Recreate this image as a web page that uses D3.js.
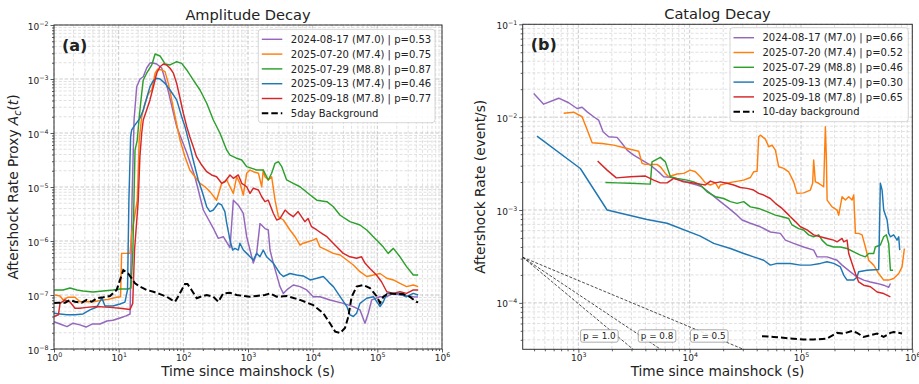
<!DOCTYPE html>
<html>
<head>
<meta charset="utf-8">
<script src="https://cdn.jsdelivr.net/npm/d3@7"></script>
<style>
  body { margin: 0; background: #fff; }
  svg text { font-family: "DejaVu Sans", sans-serif; fill: #222; }
</style>
</head>
<body>
<svg id="chart" width="919" height="384"></svg>
<script>
// ─── DATA: panel (a) amplitude proxy, [time s, A_c] ─────────────────────────
const ampLabels = [
  '2024-08-17 (M7.0) | p=0.53',
  '2025-07-20 (M7.4) | p=0.75',
  '2025-07-29 (M8.8) | p=0.87',
  '2025-09-13 (M7.4) | p=0.46',
  '2025-09-18 (M7.8) | p=0.77',
];
const ampBackgroundLabel = '5day Background';

const ampPurple = [[1,3.2e-8],[1.24,2.9e-8],[1.59,2.6e-8],[1.97,3.0e-8],[2.52,2.8e-8],[3.13,2.55e-8],[3.87,2.9e-8],[5.14,2.9e-8],[6.59,3.3e-8],[8.17,3.4e-8],[10.5,3.75e-8],[13.0,4.1e-8],[15.0,4.45e-8],[16.1,5.7e-6],[17.3,1.74e-4],[19.0,7.2e-4],[21.4,1.0e-3],[24.0,1.1e-3],[27.1,1.6e-3],[30.5,1.98e-3],[32.8,2.0e-3],[38.7,1.9e-3],[46.3,1.6e-3],[57.9,6.25e-4],[78.9,1.31e-4],[113,4.3e-5],[151,1.55e-5],[204,3.75e-6],[291,1.72e-6],[347,1.12e-6],[415,1.2e-6],[527,7.5e-7],[593,5.7e-6],[708,4.6e-6],[846,3.26e-6],[955,1.2e-6],[1074,6.8e-7],[1208,3.9e-7],[1361,5.9e-7],[1531,2.1e-6],[1831,1.7e-6],[2060,1.6e-6],[2188,6.8e-7],[2461,3.9e-7],[3124,1.43e-7],[3515,1.07e-7],[3963,1.24e-7],[5012,1.53e-7],[6366,1.43e-7],[8091,1.24e-7],[10230,9.3e-8],[12980,9.3e-8],[18530,8.1e-8],[29740,7.0e-8],[42460,6.1e-8],[53950,5.3e-8],[64420,3.0e-8],[72440,4.6e-8],[81850,8.1e-8],[109900,9.3e-8],[139600,9.3e-8],[176600,1.07e-7],[224000,1.0e-7],[359700,9.3e-8],[425000,9.2e-8]];

const ampOrange = [[1.04,1.0e-7],[1.24,9.6e-8],[1.39,8.1e-8],[1.66,9.1e-8],[2.11,9.1e-8],[2.52,7.5e-8],[3.2,7.5e-8],[4.05,7.5e-8],[5.79,8.1e-8],[6.9,8.3e-8],[9.3,9.1e-8],[10.7,9.3e-8],[11.1,5.9e-7],[15.0,5.9e-7],[16.0,1.5e-6],[17.3,2.45e-6],[19.4,5.7e-6],[20.8,7.4e-5],[22.7,2.0e-4],[25.5,3.55e-4],[28.7,5.4e-4],[32.5,6.25e-4],[36.6,1.28e-3],[39.8,1.51e-3],[46.3,1.47e-3],[52.1,1.37e-3],[58.6,8.3e-4],[66.1,4.1e-4],[74.6,2.0e-4],[89.0,7.4e-5],[106,3.64e-5],[126,2.06e-5],[151,1.55e-5],[181,1.17e-5],[216,1.01e-5],[258,8.2e-6],[327,5.7e-6],[392,1.17e-5],[469,1.35e-5],[527,1.01e-5],[593,7.6e-6],[669,1.55e-5],[750,1.17e-5],[846,7.1e-6],[955,1.8e-5],[1074,2.06e-5],[1210,1.92e-5],[1450,1.8e-5],[1630,1.01e-5],[1720,2.06e-5],[1830,1.55e-5],[2060,1.35e-5],[2320,1.55e-5],[2620,5.7e-6],[2950,2.82e-6],[3520,2.45e-6],[4460,1.6e-6],[5340,1.2e-6],[6370,8.4e-7],[7160,9.1e-7],[8500,9.7e-7],[10200,1.04e-6],[11400,1.12e-6],[12900,7.8e-7],[16500,6.8e-7],[20800,5.9e-7],[26600,5.5e-7],[33800,4.45e-7],[42500,3.6e-7],[53900,2.7e-7],[68600,2.2e-7],[87000,2.35e-7],[110000,2.5e-7],[140000,2.04e-7],[177000,1.9e-7],[224000,1.64e-7],[283000,1.43e-7],[360000,1.53e-7],[428000,1.43e-7]];

const ampGreen = [[1,1.24e-7],[1.38,1.24e-7],[1.77,1.35e-7],[2.27,1.24e-7],[2.81,1.19e-7],[4.01,1.14e-7],[5.72,1.19e-7],[8.17,1.24e-7],[10.5,1.29e-7],[14.0,1.29e-7],[15.5,1.35e-7],[16.6,6.8e-7],[17.9,4.8e-5],[19.4,7.4e-5],[20.8,2.0e-4],[22.7,5.4e-4],[24.0,9.6e-4],[27.1,1.28e-3],[32.5,1.82e-3],[36.6,2.9e-3],[43.6,2.67e-3],[52.1,1.9e-3],[62.3,1.82e-3],[78.9,2.09e-3],[94.3,1.95e-3],[113,1.47e-3],[142,9.6e-4],[181,6.25e-4],[230,3.55e-4],[291,1.74e-4],[369,9.9e-5],[469,4.8e-5],[527,3.9e-5],[651,3.45e-5],[800,3.16e-5],[955,2.38e-5],[1361,2.06e-5],[1723,2.06e-5],[2060,1.35e-5],[2320,1.8e-5],[2620,2.75e-5],[2950,2.95e-5],[3330,2.38e-5],[3960,1.35e-5],[5010,1.17e-5],[6370,1.01e-5],[9150,7.1e-6],[11600,5.7e-6],[16600,5.35e-6],[20900,4.3e-6],[26600,3.0e-6],[37700,2.28e-6],[53900,1.98e-6],[68600,1.6e-6],[97000,1.04e-6],[123000,7.8e-7],[147000,5.9e-7],[177000,7.3e-7],[224000,5.1e-7],[283000,3.35e-7],[360000,2.35e-7],[428000,2.35e-7]];

const ampBlue = [[1,4.6e-8],[1.24,4.45e-8],[1.59,4.3e-8],[2.11,4.3e-8],[2.81,4.45e-8],[3.6,5.3e-8],[4.6,6.0e-8],[5.5,8.8e-8],[6.15,6.25e-8],[8.17,6.25e-8],[10.5,6.8e-8],[12.5,7.4e-8],[13.7,1.24e-7],[14.4,5.7e-6],[15.3,8.5e-5],[15.9,1.14e-4],[17.9,1.41e-4],[21.3,1.87e-4],[24.0,2.67e-4],[27.1,4.4e-4],[30.5,7.2e-4],[34.4,9.3e-4],[38.7,1.03e-3],[43.6,1.0e-3],[52.1,8.3e-4],[62.3,6.25e-4],[78.9,4.1e-4],[94.3,2.0e-4],[106,1.31e-4],[120,7.4e-5],[142,3.16e-5],[170,1.35e-5],[192,8.8e-6],[230,4.3e-6],[258,3.5e-6],[291,3.75e-6],[347,5.0e-6],[391,4.65e-6],[439,3.5e-6],[469,2.13e-6],[527,1.04e-6],[579,6.8e-7],[627,7.3e-7],[708,6.8e-7],[750,9.1e-7],[846,6.8e-7],[955,5.9e-7],[1074,5.1e-7],[1210,4.45e-7],[1360,5.9e-7],[1530,5.1e-7],[1720,6.8e-7],[1940,5.1e-7],[2190,4.45e-7],[2460,3.9e-7],[2780,3.1e-7],[3120,2.5e-7],[3520,2.2e-7],[4460,2.5e-7],[5650,2.35e-7],[7140,2.25e-7],[9150,1.9e-7],[11600,2.04e-7],[14600,2.2e-7],[16600,1.9e-7],[18500,1.64e-7],[20900,1.43e-7],[26600,9.3e-8],[33800,6.1e-8],[37700,4.3e-8],[42500,4.0e-8],[47800,4.6e-8],[53900,7.0e-8],[68600,8.7e-8],[87000,9.3e-8],[110000,6.1e-8],[124000,7.5e-8],[140000,1.07e-7],[177000,1.07e-7],[224000,1.04e-7],[283000,9.3e-8],[360000,1.07e-7],[428000,1.0e-7]];

const ampRed = [[1,4.0e-8],[1.17,4.3e-8],[1.24,7.0e-8],[1.48,8.1e-8],[1.77,7.4e-8],[2.11,5.7e-8],[2.52,5.7e-8],[3.2,5.9e-8],[4.57,6.1e-8],[7.35,5.9e-8],[10.5,5.7e-8],[15.0,5.4e-8],[16.5,7.0e-8],[17.6,6.8e-7],[20.1,5.7e-6],[21.3,3.64e-5],[22.7,9.9e-5],[24.0,1.74e-4],[27.1,2.67e-4],[30.5,4.1e-4],[34.4,7.2e-4],[38.7,1.28e-3],[43.6,1.69e-3],[49.1,1.9e-3],[55.2,1.82e-3],[62.3,1.58e-3],[70.2,1.28e-3],[78.9,8.3e-4],[89.0,4.4e-4],[100,2.32e-4],[113,1.31e-4],[126,8.5e-5],[142,5.6e-5],[160,3.64e-5],[192,2.55e-5],[230,1.92e-5],[273,1.67e-5],[327,1.55e-5],[392,1.17e-5],[439,1.25e-5],[527,1.67e-5],[593,1.45e-5],[708,1.67e-5],[800,1.17e-5],[955,1.01e-5],[1074,7.6e-6],[1210,9.5e-6],[1450,8.8e-6],[1630,6.6e-6],[1830,5.35e-6],[2060,5.7e-6],[2460,3.26e-6],[2780,2.45e-6],[3120,2.6e-6],[3750,3.75e-6],[4220,3.26e-6],[5010,2.82e-6],[5960,3.5e-6],[6720,2.82e-6],[7570,2.28e-6],[8500,2.6e-6],[9600,1.84e-6],[11600,1.6e-6],[13800,1.39e-6],[16600,1.2e-6],[19700,9.7e-7],[23500,7.8e-7],[29700,5.9e-7],[37700,5.1e-7],[47800,4.8e-7],[57000,5.1e-7],[64400,3.9e-7],[76700,3.1e-7],[97000,2.35e-7],[116000,1.76e-7],[140000,1.15e-7],[177000,1.07e-7],[224000,1.15e-7],[283000,1.07e-7],[360000,1.24e-7],[428000,1.24e-7]];

const ampBackground = [[1,7.1e-8],[1.17,7.2e-8],[1.48,7.2e-8],[1.77,8.1e-8],[2.11,7.5e-8],[2.68,7.2e-8],[3.2,8.1e-8],[3.83,7.5e-8],[4.57,8.7e-8],[5.79,9.1e-8],[7.35,9.6e-8],[9.3,1.24e-7],[10.5,1.9e-7],[11.8,2.9e-7],[14.0,2.5e-7],[15.9,2.04e-7],[17.9,1.64e-7],[21.3,1.43e-7],[27.1,1.24e-7],[34.4,1.15e-7],[43.6,1.04e-7],[55.2,9.3e-8],[66,8.1e-8],[74.6,7.5e-8],[84,9.6e-8],[94.3,1.24e-7],[106,1.6e-7],[116,1.6e-7],[134,1.24e-7],[161,8.7e-8],[181,9.2e-8],[230,1.0e-7],[291,9.3e-8],[347,7.5e-8],[415,1.07e-7],[527,1.1e-7],[669,1.0e-7],[846,9.6e-8],[1074,9.3e-8],[1360,9.6e-8],[1830,1.0e-7],[2190,1.07e-7],[2780,9.3e-8],[3960,9.6e-8],[6370,8.1e-8],[10200,6.5e-8],[14600,4.6e-8],[18500,3.0e-8],[22300,2.1e-8],[26600,1.98e-8],[31600,2.45e-8],[35700,4.0e-8],[40000,9.2e-8],[47800,1.43e-7],[60300,1.53e-7],[76700,1.35e-7],[97000,9.6e-8],[110000,7.1e-8],[124000,9.3e-8],[147000,1.07e-7],[197000,1.04e-7],[249000,1.04e-7],[316000,9.3e-8],[400000,7.5e-8],[428000,7.3e-8]];

// ─── DATA: panel (b) catalog rate, [time s, events/s] ───────────────────────
const catLabels = [
  '2024-08-17 (M7.0) | p=0.66',
  '2025-07-20 (M7.4) | p=0.52',
  '2025-07-29 (M8.8) | p=0.46',
  '2025-09-13 (M7.4) | p=0.30',
  '2025-09-18 (M7.8) | p=0.65',
];
const catBackgroundLabel = '10-day background';

const catPurple = [[397,1.8e-2],[488,1.38e-2],[665,1.6e-2],[819,1.43e-2],[973,1.24e-2],[1080,1.28e-2],[1200,1.14e-2],[1372,1.01e-2],[1520,9.3e-3],[1667,6.97e-3],[1871,6.15e-3],[2228,6.06e-3],[2470,5.2e-3],[2740,4.42e-3],[3140,3.9e-3],[3735,3.45e-3],[4430,3.05e-3],[5450,2.48e-3],[5840,2.28e-3],[6710,2.25e-3],[8250,2.1e-3],[10140,1.94e-3],[11650,1.86e-3],[12900,1.78e-3],[15300,1.51e-3],[18870,1.23e-3],[21680,1.08e-3],[26660,8.8e-4],[29570,7.8e-4],[35090,7.2e-4],[43150,6.6e-4],[53080,5.8e-4],[65300,5.6e-4],[72400,4.74e-4],[85980,4.37e-4],[105700,4.0e-4],[130000,3.7e-4],[139600,3.13e-4],[171700,3.13e-4],[211000,2.88e-4],[234000,2.55e-4],[278000,2.16e-4],[319000,1.9e-4],[366000,1.76e-4],[420000,1.68e-4],[483000,1.62e-4],[554000,1.55e-4],[614000,1.47e-4],[636000,1.62e-4]];

const catOrange = [[738,1.1e-2],[907,1.13e-2],[1080,1.01e-2],[1200,7.3e-3],[1330,5.3e-3],[1633,5.2e-3],[2076,5.0e-3],[2740,4.6e-3],[3485,4.3e-3],[3735,3.18e-3],[4000,3.1e-3],[5093,3.1e-3],[5450,2.92e-3],[6050,2.48e-3],[6480,2.28e-3],[7700,2.44e-3],[8840,2.48e-3],[10140,2.69e-3],[11250,2.58e-3],[12470,2.28e-3],[13830,1.96e-3],[15350,1.86e-3],[17020,1.96e-3],[18230,1.71e-3],[18870,1.86e-3],[21680,1.94e-3],[24850,2.01e-3],[30550,2.1e-3],[35090,2.24e-3],[37570,2.58e-3],[40340,2.62e-3],[41700,6.15e-3],[43150,6.4e-3],[47860,5.8e-3],[51290,4.8e-3],[54950,5.0e-3],[58880,4.42e-3],[63100,2.92e-3],[69980,2.81e-3],[77500,2.58e-3],[85980,2.01e-3],[92200,1.51e-3],[105700,1.53e-3],[121400,1.64e-3],[127300,1.94e-3],[130000,3.45e-3],[134600,2.01e-3],[144200,1.94e-3],[159900,1.78e-3],[165600,7.9e-3],[169000,3.74e-3],[171700,1.28e-3],[190300,1.08e-3],[211000,1.0e-3],[218300,8.8e-4],[234000,1.39e-3],[250600,1.28e-3],[268500,1.39e-3],[287700,1.28e-3],[297800,1.45e-3],[308300,5.6e-4],[329800,5.6e-4],[353800,5.4e-4],[379000,4.0e-4],[405500,2.88e-4],[449800,2.55e-4],[498900,2.07e-4],[553400,1.76e-4],[613800,1.76e-4],[680800,1.83e-4],[755000,2.07e-4],[809000,2.44e-4],[849000,3.85e-4]];

const catGreen = [[1750,1.98e-3],[2228,1.96e-3],[2933,1.94e-3],[4430,1.9e-3],[4590,3.3e-3],[5450,3.69e-3],[6050,3.3e-3],[6710,2.28e-3],[7710,2.19e-3],[9480,2.1e-3],[10870,2.01e-3],[12470,1.86e-3],[14330,1.57e-3],[17020,1.39e-3],[20230,1.33e-3],[23230,1.23e-3],[26660,1.18e-3],[30570,1.23e-3],[35090,1.08e-3],[41690,1.04e-3],[49550,9.6e-4],[58880,8.8e-4],[67620,8.45e-4],[77500,8.1e-4],[83100,6.9e-4],[95300,6.3e-4],[105700,6.1e-4],[117200,5.4e-4],[130000,5.15e-4],[144200,5.4e-4],[154500,4.74e-4],[171400,4.2e-4],[196700,4.0e-4],[225900,4.0e-4],[259300,3.85e-4],[297800,3.55e-4],[342000,3.27e-4],[379000,3.13e-4],[405500,3.4e-4],[449800,3.4e-4],[465600,4.0e-4],[516400,4.2e-4],[553400,5.15e-4],[584800,5.4e-4],[613800,4.37e-4],[635500,2.25e-4],[672500,2.25e-4]];

const catBlue = [[425,6.25e-3],[1042,2.8e-3],[1812,1.0e-3],[4140,7.9e-4],[6265,7.2e-4],[12470,5.24e-4],[16440,4.37e-4],[23230,3.85e-4],[30570,3.4e-4],[37570,3.13e-4],[46240,2.88e-4],[53080,2.55e-4],[60950,2.66e-4],[80350,2.66e-4],[98850,2.55e-4],[121400,2.55e-4],[149300,2.66e-4],[171400,2.77e-4],[196700,2.66e-4],[225900,2.44e-4],[242000,1.99e-4],[259300,1.76e-4],[297800,1.76e-4],[319000,1.9e-4],[329800,2.16e-4],[392600,2.25e-4],[498900,2.29e-4],[516400,1.94e-3],[535300,1.64e-3],[553400,1.0e-3],[594000,7.8e-4],[613800,5.6e-4],[635500,5.15e-4],[680800,5.4e-4],[729300,4.74e-4],[755000,5.15e-4],[771000,3.7e-4]];

const catRed = [[1490,3.37e-3],[1812,2.69e-3],[2193,2.22e-3],[2933,2.28e-3],[4000,2.32e-3],[4750,2.1e-3],[5450,1.96e-3],[6265,1.96e-3],[7180,2.19e-3],[8840,2.01e-3],[10140,1.98e-3],[12470,1.9e-3],[13830,1.86e-3],[15350,2.05e-3],[17020,1.96e-3],[18870,2.01e-3],[21680,1.94e-3],[24850,1.86e-3],[28530,1.75e-3],[32810,1.71e-3],[37570,1.64e-3],[41690,1.51e-3],[46240,1.45e-3],[53080,1.33e-3],[58880,1.18e-3],[67620,1.04e-3],[74990,9.2e-4],[80350,8.45e-4],[89130,7.5e-4],[98850,6.6e-4],[113500,6.1e-4],[130000,5.4e-4],[149300,5.15e-4],[171400,4.94e-4],[196700,4.74e-4],[211000,4.54e-4],[234000,4.94e-4],[242000,4.54e-4],[259300,4.74e-4],[268500,3.4e-4],[287700,2.66e-4],[308300,2.07e-4],[329800,1.68e-4],[365600,1.55e-4],[420700,1.49e-4],[483100,1.31e-4],[553400,1.26e-4],[635500,1.16e-4]];

const catBackground = [[44670,4.38e-5],[56840,4.3e-5],[80350,4.13e-5],[105700,4.03e-5],[130000,4.03e-5],[171400,4.13e-5],[211000,4.75e-5],[242000,4.68e-5],[287700,4.99e-5],[319000,4.75e-5],[365600,4.3e-5],[420700,4.49e-5],[483100,4.68e-5],[553400,4.3e-5],[635500,4.75e-5],[680800,4.86e-5],[809000,4.68e-5]];

// reference power-law guides (panel b)
const refLabels = ['p = 1.0', 'p = 0.8', 'p = 0.5'];
const refStart = [316, 3.1e-4];
const refEnds = [[3162, 3.1e-5], [5623, 3.1e-5], [31620, 3.1e-5]];
const refLabelAt = [[1545, 4.4e-5], [5090, 4.4e-5], [15000, 4.4e-5]];

// axes
const ampXTicks = [1, 10, 100, 1e3, 1e4, 1e5, 1e6];
const ampYTicks = [1e-8, 1e-7, 1e-6, 1e-5, 1e-4, 1e-3, 1e-2];
const catXTicks = [1e3, 1e4, 1e5, 1e6];
const catYTicks = [1e-4, 1e-3, 1e-2, 1e-1];

const colors = ['#9467bd', '#ff7f0e', '#2ca02c', '#1f77b4', '#d62728'];

// ─── DRAWING ────────────────────────────────────────────────────────────────
const svg = d3.select('#chart');

function isDecade(v) {
  const l = Math.log10(v);
  return Math.abs(l - Math.round(l)) < 1e-6;
}

function powLabel(sel, v) {
  const e = Math.round(Math.log10(v));
  sel.text(null);
  sel.append('tspan').text('10');
  sel.append('tspan').attr('dy', -4).attr('font-size', 6.3)
    .text(e < 0 ? '\u2212' + (-e) : String(e));
}

function drawPanel(p) {
  const x = d3.scaleLog().domain(p.xDomain).range([p.left, p.right]);
  const y = d3.scaleLog().domain(p.yDomain).range([p.bottom, p.top]);
  const g = svg.append('g');

  svg.append('clipPath').attr('id', 'clip-' + p.id).append('rect')
    .attr('x', p.left).attr('y', p.top)
    .attr('width', p.right - p.left).attr('height', p.bottom - p.top);

  // grid (minor then major)
  const xAll = x.ticks().filter((t) => t >= p.xDomain[0] && t <= p.xDomain[1]);
  const yAll = y.ticks().filter((t) => t >= p.yDomain[0] && t <= p.yDomain[1]);
  const grid = g.append('g');
  [false, true].forEach((major) => {
    const xs = xAll.filter((t) => isDecade(t) === major);
    const ys = yAll.filter((t) => isDecade(t) === major);
    const col = major ? '#b9b9b9' : '#d6d6d6';
    const dash = major ? '3.5,1.8' : '3,1.8';
    grid.selectAll(null).data(xs).join('line')
      .attr('x1', (d) => x(d)).attr('x2', (d) => x(d))
      .attr('y1', p.top).attr('y2', p.bottom)
      .attr('stroke', col).attr('stroke-width', 0.75).attr('stroke-dasharray', dash);
    grid.selectAll(null).data(ys).join('line')
      .attr('y1', (d) => y(d)).attr('y2', (d) => y(d))
      .attr('x1', p.left).attr('x2', p.right)
      .attr('stroke', col).attr('stroke-width', 0.75).attr('stroke-dasharray', dash);
  });

  const line = d3.line().x((d) => x(d[0])).y((d) => y(d[1]));
  const plot = g.append('g').attr('clip-path', `url(#clip-${p.id})`);

  // optional power-law guides
  if (p.guides) {
    p.guides.ends.forEach((end) => {
      plot.append('path').datum([p.guides.start, end]).attr('d', line)
        .attr('fill', 'none').attr('stroke', '#222').attr('stroke-width', 0.8)
        .attr('stroke-dasharray', '3,1.6');
    });
  }

  p.series.forEach((s, i) => {
    plot.append('path').datum(s).attr('d', line)
      .attr('fill', 'none').attr('stroke', colors[i]).attr('stroke-width', 1.45)
      .attr('stroke-linejoin', 'round');
  });
  plot.append('path').datum(p.background).attr('d', line)
    .attr('fill', 'none').attr('stroke', '#000').attr('stroke-width', 2)
    .attr('stroke-dasharray', '6.5,3');

  if (p.guides) {
    p.guides.labels.forEach((lab, i) => {
      const [tx, ty] = p.guides.at[i];
      const lg = g.append('g').attr('transform', `translate(${x(tx)},${y(ty)})`);
      const txt = lg.append('text').attr('text-anchor', 'middle').attr('dy', '0.35em')
        .attr('font-size', 8.8).text(lab);
      const w = txt.node().getComputedTextLength() + 5;
      lg.insert('rect', 'text').attr('x', -w / 2).attr('y', -6.2).attr('width', w).attr('height', 12.4)
        .attr('rx', 2).attr('fill', '#fff').attr('fill-opacity', 0.85)
        .attr('stroke', '#888').attr('stroke-width', 0.7);
    });
  }

  // axes: minor ticks, then major ticks with labels
  const styleAxis = (sel) => {
    sel.select('.domain').remove();
    sel.selectAll('.tick line').attr('stroke', '#333').attr('stroke-width', 0.8);
  };
  const xMinor = xAll.filter((t) => !isDecade(t));
  const yMinor = yAll.filter((t) => !isDecade(t));

  g.append('g').attr('transform', `translate(0,${p.bottom})`)
    .call(d3.axisBottom(x).tickValues(xMinor).tickSize(2).tickFormat(''))
    .call(styleAxis);
  g.append('g').attr('transform', `translate(${p.left},0)`)
    .call(d3.axisLeft(y).tickValues(yMinor).tickSize(2).tickFormat(''))
    .call(styleAxis);

  const xa = g.append('g').attr('transform', `translate(0,${p.bottom})`)
    .call(d3.axisBottom(x).tickValues(p.xTicks).tickSize(3.5).tickFormat(() => ''))
    .call(styleAxis);
  xa.selectAll('.tick text').attr('y', 12).attr('dy', null)
    .attr('font-size', 9).attr('fill', '#222').attr('font-family', '"DejaVu Sans", sans-serif')
    .each(function (d) { powLabel(d3.select(this), d); });

  const ya = g.append('g').attr('transform', `translate(${p.left},0)`)
    .call(d3.axisLeft(y).tickValues(p.yTicks).tickSize(3.5).tickPadding(2).tickFormat(() => ''))
    .call(styleAxis);
  ya.selectAll('.tick text').attr('dy', '0.45em')
    .attr('font-size', 9).attr('fill', '#222').attr('font-family', '"DejaVu Sans", sans-serif')
    .each(function (d) { powLabel(d3.select(this), d); });

  // frame
  g.append('rect').attr('x', p.left).attr('y', p.top)
    .attr('width', p.right - p.left).attr('height', p.bottom - p.top)
    .attr('fill', 'none').attr('stroke', '#333').attr('stroke-width', 1);

  // titles and labels
  const cx = (p.left + p.right) / 2;
  const cy = (p.top + p.bottom) / 2;
  g.append('text').attr('x', cx).attr('y', p.top - 5.5).attr('text-anchor', 'middle')
    .attr('font-size', 14.6).text(p.title);
  g.append('text').attr('x', cx).attr('y', 376).attr('text-anchor', 'middle')
    .attr('font-size', 13.7).text('Time since mainshock (s)');
  const yl = g.append('text').attr('transform', `translate(${p.ylabelX},${cy}) rotate(-90)`)
    .attr('text-anchor', 'middle').attr('font-size', 13.7);
  p.ylabel(yl);
  g.append('text').attr('x', p.left + 8).attr('y', p.top + 25.5)
    .attr('font-size', 16).attr('font-weight', 'bold').attr('fill', '#000').text(p.tag);

  // legend
  const L = p.legend;
  const lg = g.append('g');
  lg.append('rect').attr('x', L.x).attr('y', L.y).attr('width', L.w).attr('height', L.h)
    .attr('rx', 3).attr('fill', '#fff').attr('fill-opacity', 0.85)
    .attr('stroke', '#cccccc').attr('stroke-width', 0.8);
  const items = p.labels.map((t, i) => ({ t, color: colors[i], dash: null, w: 1.45 }))
    .concat([{ t: p.backgroundLabel, color: '#000', dash: '6.5,3', w: 2 }]);
  items.forEach((it, i) => {
    const ry = L.y + 10 + i * 14.8;
    lg.append('line').attr('x1', L.x + 3.5).attr('x2', L.x + 24).attr('y1', ry).attr('y2', ry)
      .attr('stroke', it.color).attr('stroke-width', it.w).attr('stroke-dasharray', it.dash);
    lg.append('text').attr('x', L.x + 32.5).attr('y', ry).attr('dy', '0.36em')
      .attr('font-size', 10).text(it.t);
  });
}

drawPanel({
  id: 'a',
  left: 54, right: 442, top: 25, bottom: 349,
  xDomain: [1, 1e6], yDomain: [1e-8, 1e-2],
  xTicks: ampXTicks, yTicks: ampYTicks,
  series: [ampPurple, ampOrange, ampGreen, ampBlue, ampRed],
  background: ampBackground,
  labels: ampLabels, backgroundLabel: ampBackgroundLabel,
  title: 'Amplitude Decay', tag: '(a)',
  ylabelX: 18,
  ylabel: (t) => {
    t.append('tspan').text('Aftershock Rate Proxy ');
    t.append('tspan').attr('font-style', 'italic').text('A');
    t.append('tspan').attr('font-style', 'italic').attr('font-size', 9.6).attr('dy', 3).text('c');
    t.append('tspan').attr('dy', -3).text('(');
    t.append('tspan').attr('font-style', 'italic').text('t');
    t.append('tspan').text(')');
  },
  legend: { x: 258.3, y: 29.3, w: 176.7, h: 93.4 },
});

drawPanel({
  id: 'b',
  left: 522.7, right: 912.3, top: 24.3, bottom: 349.3,
  xDomain: [316.23, 1e6], yDomain: [3.1623e-5, 1e-1],
  xTicks: catXTicks, yTicks: catYTicks,
  series: [catPurple, catOrange, catGreen, catBlue, catRed],
  background: catBackground,
  labels: catLabels, backgroundLabel: catBackgroundLabel,
  title: 'Catalog Decay', tag: '(b)',
  ylabelX: 485,
  ylabel: (t) => t.text('Aftershock Rate (event/s)'),
  legend: { x: 730, y: 27.7, w: 178.3, h: 94 },
  guides: { start: refStart, ends: refEnds, labels: refLabels, at: refLabelAt },
});
</script>
</body>
</html>
